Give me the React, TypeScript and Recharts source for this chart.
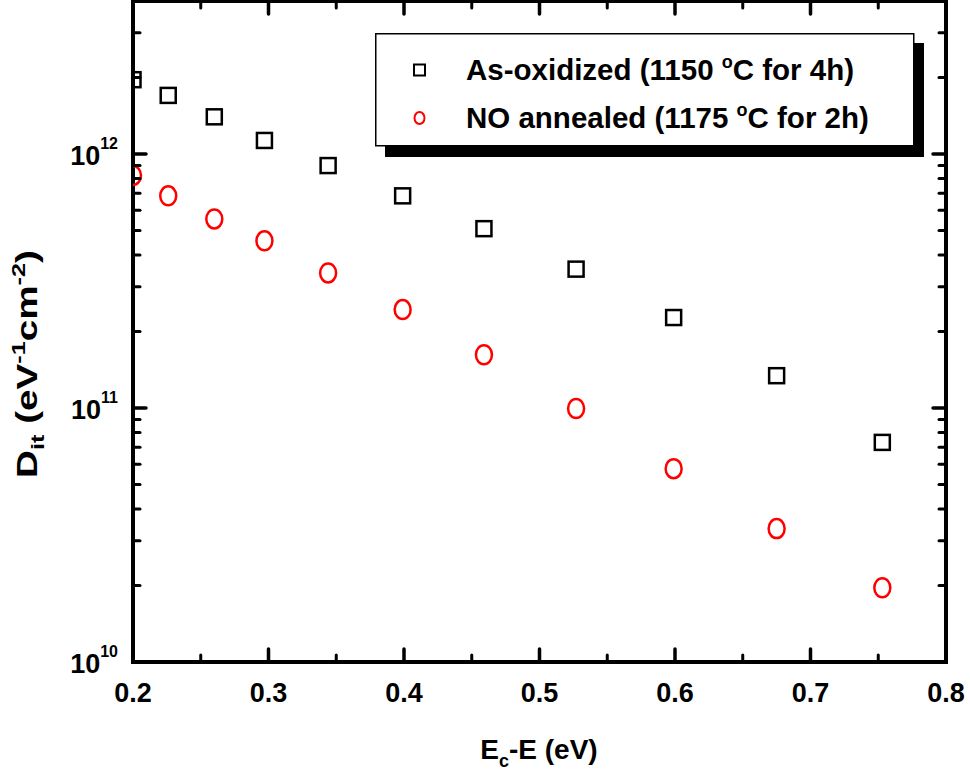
import React from 'react';
import { ScatterChart, Scatter, XAxis, YAxis, Legend } from 'recharts';

// Dit vs energy below conduction band
const energy = [0.2, 0.226, 0.26, 0.297, 0.344, 0.399, 0.459, 0.527, 0.599, 0.675, 0.753];
const asOxidized = [1.96e12, 1.7e12, 1.4e12, 1.13e12, 9.0e11, 6.84e11, 5.08e11, 3.52e11, 2.27e11, 1.34e11, 7.32e10];
const noAnnealed = [8.23e11, 6.84e11, 5.55e11, 4.55e11, 3.4e11, 2.44e11, 1.62e11, 9.95e10, 5.77e10, 3.35e10, 1.96e10];

const seriesNames = ['As-oxidized (1150 °C for 4h)', 'NO annealed (1175 °C for 2h)'];

const xTicks = [0.2, 0.25, 0.3, 0.35, 0.4, 0.45, 0.5, 0.55, 0.6, 0.65, 0.7, 0.75, 0.8];
const yTicks = [
  1e10, 2e10, 3e10, 4e10, 5e10, 6e10, 7e10, 8e10, 9e10,
  1e11, 2e11, 3e11, 4e11, 5e11, 6e11, 7e11, 8e11, 9e11,
  1e12, 2e12, 3e12,
];

const FONT = "'Liberation Sans', Arial, Helvetica, sans-serif";
const W = 970;
const H = 776;
// plot frame; ticks point inwards from all four sides
const PLOT = { left: 133, right: 946, top: 1, bottom: 662 };

const asData = energy.map((e, i) => ({ x: e, y: asOxidized[i] }));
const noData = energy.map((e, i) => ({ x: e, y: noAnnealed[i] }));

const isMajorX = (v: number) => Math.round(v * 100) % 10 === 0;
const isMajorY = (v: number) => Math.abs(Math.log10(v) - Math.round(Math.log10(v))) < 1e-6;

const tickStroke = (major: boolean) => ({
  stroke: '#000',
  strokeWidth: major ? 3.5 : 3,
  strokeLinecap: 'round' as const,
});

// bottom axis tick also draws the mirrored tick on the top edge
const XTick = ({ x, payload }: any) => {
  const v = payload.value;
  const major = isMajorX(v);
  const len = major ? 13 : 7;
  return (
    <g>
      <line x1={x} y1={PLOT.bottom} x2={x} y2={PLOT.bottom - len} {...tickStroke(major)} />
      <line x1={x} y1={PLOT.top} x2={x} y2={PLOT.top + len} {...tickStroke(major)} />
      {major && (
        <text x={x} y={PLOT.bottom + 40} textAnchor="middle" fontFamily={FONT} fontWeight="bold" fontSize={27} fill="#000">
          {v.toFixed(1)}
        </text>
      )}
    </g>
  );
};

// left axis tick also draws the mirrored tick on the right edge
const YTick = ({ y, payload }: any) => {
  const v = payload.value;
  const major = isMajorY(v);
  const len = major ? 13 : 7;
  return (
    <g>
      <line x1={PLOT.left} y1={y} x2={PLOT.left + len} y2={y} {...tickStroke(major)} />
      <line x1={PLOT.right} y1={y} x2={PLOT.right - len} y2={y} {...tickStroke(major)} />
      {major && (
        <text x={PLOT.left - 15} y={y + 11} textAnchor="end" fontFamily={FONT} fontWeight="bold" fontSize={27} fill="#000">
          10
          <tspan dy={-16} fontSize={16}>{Math.round(Math.log10(v))}</tspan>
        </text>
      )}
    </g>
  );
};

const SquareMark = (props: any) => {
  const { cx, cy } = props;
  if (cx == null || cy == null) return null;
  return <rect x={cx - 7.5} y={cy - 7.5} width={15} height={15} fill="none" stroke="#000" strokeWidth={2.5} />;
};

const CircleMark = (props: any) => {
  const { cx, cy } = props;
  if (cx == null || cy == null) return null;
  return <ellipse cx={cx} cy={cy} rx={8} ry={9.5} fill="none" stroke="#ff0000" strokeWidth={2.5} />;
};

// "1150 °C" is drawn with a raised "o" like the original figure
const DegreeText = ({ text, x, y }: { text: string; x: number; y: number }) => {
  const [before, after] = text.split('°');
  return (
    <text x={x} y={y} fontFamily={FONT} fontWeight="bold" fontSize={29.5} fill="#000">
      {before}
      <tspan dy={-12} fontSize={18}>o</tspan>
      <tspan dy={12}>{after}</tspan>
    </text>
  );
};

const renderLegend = (props: any) => {
  const items = props.payload || [];
  return (
    <svg width={560} height={130} style={{ display: 'block' }}>
      <rect x={10} y={10} width={539} height={114} fill="#000" />
      <rect x={0.75} y={0.75} width={538} height={112} fill="#fff" stroke="#000" strokeWidth={1.5} />
      {items.map((item: any, i: number) => {
        const cy = 37 + i * 48;
        return (
          <g key={item.value}>
            {i === 0 ? (
              <rect x={39} y={cy - 5.5} width={11} height={11} fill="none" stroke="#000" strokeWidth={2} />
            ) : (
              <ellipse cx={44.5} cy={cy} rx={5} ry={6} fill="none" stroke="#ff0000" strokeWidth={2} />
            )}
            <DegreeText text={item.value} x={91} y={cy + 10} />
          </g>
        );
      })}
    </svg>
  );
};

export default function App() {
  return (
    <div style={{ position: 'absolute', left: 0, top: 0, width: W, height: H, background: '#fff' }}>
      <ScatterChart
        width={W}
        height={H}
        margin={{ top: PLOT.top, right: W - PLOT.right, bottom: 0, left: 0 }}
      >
        <rect
          x={PLOT.left}
          y={PLOT.top}
          width={PLOT.right - PLOT.left}
          height={PLOT.bottom - PLOT.top}
          fill="none"
          stroke="#000"
          strokeWidth={4}
        />
        <XAxis
          dataKey="x"
          type="number"
          domain={[0.2, 0.8]}
          ticks={xTicks}
          interval={0}
          allowDataOverflow
          height={H - PLOT.bottom}
          tickLine={false}
          tickSize={0}
          tickMargin={0}
          tick={<XTick />}
          axisLine={false}
        />
        <YAxis
          dataKey="y"
          type="number"
          scale="log"
          domain={[1e10, 4e12]}
          ticks={yTicks}
          interval={0}
          allowDataOverflow
          width={PLOT.left}
          tickLine={false}
          tickSize={0}
          tickMargin={0}
          tick={<YTick />}
          axisLine={false}
        />
        <Scatter name={seriesNames[0]} data={asData} fill="#000" shape={SquareMark} isAnimationActive={false} />
        <Scatter name={seriesNames[1]} data={noData} fill="#ff0000" shape={CircleMark} isAnimationActive={false} />
        <Legend
          layout="vertical"
          align="center"
          verticalAlign="middle"
          content={renderLegend}
          wrapperStyle={{ left: 375, top: 33, width: 560, height: 130, lineHeight: 0 }}
        />
        <text
          transform="translate(37, 364) rotate(-90)"
          textAnchor="middle"
          fontFamily={FONT}
          fontWeight="bold"
          fontSize={29}
          fill="#000"
          textLength={228}
          lengthAdjust="spacingAndGlyphs"
        >
          D<tspan dy={7} fontSize={19}>it</tspan>
          <tspan dy={-7}> (eV</tspan>
          <tspan dy={-12} fontSize={19}>-1</tspan>
          <tspan dy={12}>cm</tspan>
          <tspan dy={-12} fontSize={19}>-2</tspan>
          <tspan dy={12}>)</tspan>
        </text>
        <text x={539} y={759} textAnchor="middle" fontFamily={FONT} fontWeight="bold" fontSize={28} fill="#000">
          E<tspan dy={8} fontSize={18}>c</tspan>
          <tspan dy={-8}>-E (eV)</tspan>
        </text>
      </ScatterChart>
    </div>
  );
}
